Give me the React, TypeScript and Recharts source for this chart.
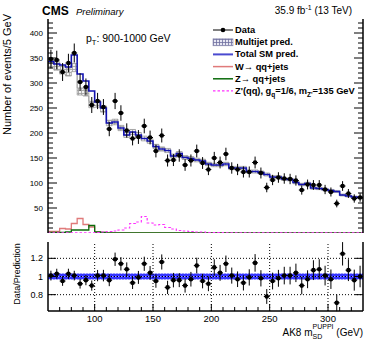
import React from "react";
import {
  ComposedChart,
  Line,
  Area,
  Scatter,
  ErrorBar,
  XAxis,
  YAxis,
  ReferenceLine,
  ReferenceArea,
} from "recharts";

const FONT = "'Liberation Sans', Arial, Helvetica, sans-serif";

// 5 GeV bins from 60 to 330 GeV
const massRange = [60, 330];
const binCenters = [
  62.5, 67.5, 72.5, 77.5, 82.5, 87.5, 92.5, 97.5, 102.5, 107.5,
  112.5, 117.5, 122.5, 127.5, 132.5, 137.5, 142.5, 147.5, 152.5, 157.5,
  162.5, 167.5, 172.5, 177.5, 182.5, 187.5, 192.5, 197.5, 202.5, 207.5,
  212.5, 217.5, 222.5, 227.5, 232.5, 237.5, 242.5, 247.5, 252.5, 257.5,
  262.5, 267.5, 272.5, 277.5, 282.5, 287.5, 292.5, 297.5, 302.5, 307.5,
  312.5, 317.5, 322.5, 327.5,
];

const dataEvents = [
  348, 346, 322, 340, 360, 302, 292, 256, 264, 252,
  208, 264, 240, 205, 189, 192, 214, 191, 164, 195,
  145, 146, 155, 136, 145, 164, 140, 127, 150, 141,
  158, 130, 127, 122, 122, 141, 120, 91, 106, 111,
  109, 108, 105, 86, 97, 96, 96, 87, 82, 59,
  94, 79, 69, 71,
];

const totalSM = [
  343, 338, 336, 332, 356, 318, 304, 284, 262, 250,
  220, 222, 210, 196, 202, 196, 189, 184, 173, 168,
  165, 154, 159, 151, 149, 146, 144, 138, 136, 136,
  138, 130, 130, 130, 123, 123, 121, 117, 112, 112,
  108, 107, 101, 97, 99, 90, 89, 87, 85, 83,
  76, 74, 72, 71,
];

const wJets = [
  3, 3, 9, 8, 19, 29, 17, 12, 2, 1,
  0, 0, 0, 0, 0, 0, 0, 0, 0, 0,
  0, 0, 0, 0, 0, 0, 0, 0, 0, 0,
  0, 0, 0, 0, 0, 0, 0, 0, 0, 0,
  0, 0, 0, 0, 0, 0, 0, 0, 0, 0,
  0, 0, 0, 0,
];

const zJets = [
  1, 1, 1, 2, 6, 6, 6, 15, 2, 1,
  0, 0, 0, 0, 0, 0, 0, 0, 0, 0,
  0, 0, 0, 0, 0, 0, 0, 0, 0, 0,
  0, 0, 0, 0, 0, 0, 0, 0, 0, 0,
  0, 0, 0, 0, 0, 0, 0, 0, 0, 0,
  0, 0, 0, 0,
];

const zPrime = [
  0.5, 0.5, 0.5, 0.5, 0.5, 0.5, 0.5, 0.5, 1, 2,
  3, 4, 6, 10, 19, 22, 33, 20, 16, 17,
  11, 8, 5, 4, 3, 2, 2, 1, 1, 1,
  0.5, 0.5, 0.5, 0.5, 0.5, 0.5, 0.5, 0.5, 0.5, 0.5,
  0.5, 0.5, 0.5, 0.5, 0.5, 0.5, 0.5, 0.5, 0.5, 0.5,
  0.5, 0.5, 0.5, 0.5,
];

const ratio = [
  1.01, 1.03, 0.95, 1.03, 1.01, 0.92, 0.96, 0.9, 1.01, 1.01,
  0.96, 1.19, 1.14, 1.08, 0.93, 0.99, 1.14, 1.04, 0.95, 1.16,
  0.88, 0.96, 0.96, 0.9, 0.97, 1.12, 0.95, 0.92, 1.1, 1.04,
  1.14, 1.01, 0.97, 0.93, 0.99, 1.15, 0.98, 0.78, 0.95, 0.98,
  1.01, 1.01, 1.04, 0.9, 0.97, 1.07, 1.08, 1.01, 0.97, 0.71,
  1.25, 1.07, 0.96, 1.0,
];

const multijetUnc = 0.025;
const ratioBand = [0.966, 1.034];

const mainYLabels = [0, 50, 100, 150, 200, 250, 300, 350, 400];
const ratioYLabels = [0.8, 1, 1.2];
const xLabels = [100, 150, 200, 250, 300];

const mainYDomain = [0, 428];
const ratioYDomain = [0.62, 1.38];

const range = (a: number, b: number, step: number) => {
  const out: number[] = [];
  for (let v = a; v <= b + 1e-9; v += step) out.push(Math.round(v * 100) / 100);
  return out;
};
const xTicks = range(70, 320, 10);
const mainYTicks = range(10, 420, 10);

// table for the step histograms, padded with the outer bin edges
const rowFor = (m: number, i: number) => {
  const qcd = totalSM[i] - wJets[i] - zJets[i];
  return {
    m,
    total: totalSM[i],
    w: wJets[i],
    z: zJets[i],
    zp: zPrime[i],
    qcdBand: [qcd * (1 - multijetUnc), qcd * (1 + multijetUnc)],
  };
};
const histRows = [
  rowFor(massRange[0], 0),
  ...binCenters.map((m, i) => rowFor(m, i)),
  rowFor(massRange[1], binCenters.length - 1),
];

const dataPoints = binCenters.map((m, i) => ({
  m,
  y: dataEvents[i],
  err: Math.sqrt(dataEvents[i]),
  xerr: 2.5,
}));

const ratioPoints = binCenters.map((m, i) => ({
  m,
  y: ratio[i],
  err: ratio[i] / Math.sqrt(dataEvents[i]),
  xerr: 2.5,
}));

type Side = "left" | "right" | "top" | "bottom";

const makeTick =
  (
    side: Side,
    majors: number[],
    majorLen: number,
    minorLen: number,
    fontSize = 0,
    fmt?: (v: number) => string
  ) =>
  (props: any) => {
    const { x, y, payload } = props;
    const v = payload.value;
    const isMajor = majors.some((mv) => Math.abs(mv - v) < 1e-6);
    const len = isMajor ? majorLen : minorLen;
    let line;
    if (side === "left") line = <line x1={x} x2={x + len} y1={y} y2={y} />;
    else if (side === "right") line = <line x1={x} x2={x - len} y1={y} y2={y} />;
    else if (side === "bottom") line = <line x1={x} x2={x} y1={y} y2={y - len} />;
    else line = <line x1={x} x2={x} y1={y} y2={y + len} />;
    let label = null;
    if (isMajor && fmt) {
      if (side === "left")
        label = (
          <text x={x - 5} y={y} textAnchor="end" dominantBaseline="central" fontSize={fontSize} fill="#000" stroke="none">
            {fmt(v)}
          </text>
        );
      else if (side === "bottom")
        label = (
          <text x={x} y={y + fontSize + 1.5} textAnchor="middle" fontSize={fontSize} fill="#000" stroke="none">
            {fmt(v)}
          </text>
        );
    }
    return (
      <g stroke="#000" strokeWidth={1} fontFamily={FONT}>
        {line}
        {label}
      </g>
    );
  };

const axisLine = { stroke: "#000", strokeWidth: 1.5 };

const Dot = (p: any) =>
  p.cx == null ? null : <circle cx={p.cx} cy={p.cy} r={2.3} fill="#000" />;

const MainPanel = () => (
  <ComposedChart
    width={365}
    height={236}
    data={histRows}
    margin={{ top: 19, right: 0, bottom: 3, left: 0 }}
  >
    <defs>
      <pattern id="qcdHatch" width="3" height="3" patternUnits="userSpaceOnUse">
        <rect width="3" height="3" fill="#f2f2f2" />
        <path d="M0 0.5 H3 M0.5 0 V3" stroke="#9c9c9c" strokeWidth="0.8" />
      </pattern>
      <pattern id="ratioHatch" width="3" height="3" patternUnits="userSpaceOnUse">
        <rect width="3" height="3" fill="#3434ff" />
        <rect x="1" y="1" width="1" height="1" fill="#a0a0ff" />
      </pattern>
    </defs>
    <XAxis
      xAxisId="b"
      dataKey="m"
      type="number"
      domain={massRange}
      allowDataOverflow
      ticks={xTicks}
      interval={0}
      height={0}
      tickSize={0}
      tickMargin={0}
      axisLine={axisLine}
      tickLine={false}
      tick={makeTick("bottom", xLabels, 8, 4)}
    />
    <XAxis
      xAxisId="t"
      orientation="top"
      dataKey="m"
      type="number"
      domain={massRange}
      allowDataOverflow
      ticks={xTicks}
      interval={0}
      height={0}
      tickSize={0}
      tickMargin={0}
      axisLine={axisLine}
      tickLine={false}
      tick={makeTick("top", xLabels, 8, 4)}
    />
    <YAxis
      yAxisId="l"
      type="number"
      domain={mainYDomain}
      allowDataOverflow
      ticks={mainYTicks}
      interval={0}
      width={48}
      tickSize={0}
      tickMargin={0}
      axisLine={axisLine}
      tickLine={false}
      tick={makeTick("left", mainYLabels, 9, 5, 8, (v) => String(v))}
    />
    <YAxis
      yAxisId="r"
      orientation="right"
      type="number"
      domain={mainYDomain}
      allowDataOverflow
      ticks={mainYTicks}
      interval={0}
      width={2}
      tickSize={0}
      tickMargin={0}
      axisLine={axisLine}
      tickLine={false}
      tick={makeTick("right", mainYLabels, 9, 5)}
    />
    <Area
      xAxisId="b"
      yAxisId="l"
      type="step"
      dataKey="qcdBand"
      stroke="#9a9a9a"
      strokeWidth={0.8}
      fill="url(#qcdHatch)"
      fillOpacity={1}
      isAnimationActive={false}
    />
    <Line xAxisId="b" yAxisId="l" type="step" dataKey="w" stroke="#e07a7a" strokeWidth={1.3} dot={false} isAnimationActive={false} />
    <Line xAxisId="b" yAxisId="l" type="step" dataKey="z" stroke="#0b6b0b" strokeWidth={1.3} dot={false} isAnimationActive={false} />
    <Line xAxisId="b" yAxisId="l" type="step" dataKey="zp" stroke="#ff30ff" strokeWidth={1.2} strokeDasharray="2.5 2" dot={false} isAnimationActive={false} />
    <Line xAxisId="b" yAxisId="l" type="step" dataKey="total" stroke="#1212b0" strokeWidth={1.6} dot={false} isAnimationActive={false} />
    <Scatter xAxisId="b" yAxisId="l" data={dataPoints} dataKey="y" shape={Dot} isAnimationActive={false}>
      <ErrorBar dataKey="err" direction="y" width={0} stroke="#000" strokeWidth={1} />
      <ErrorBar dataKey="xerr" direction="x" width={0} stroke="#000" strokeWidth={1} />
    </Scatter>
  </ComposedChart>
);

const RatioPanel = () => (
  <ComposedChart
    width={365}
    height={108}
    data={[{ m: massRange[0] }, { m: massRange[1] }]}
    margin={{ top: 6, right: 0, bottom: 0, left: 0 }}
  >
    <XAxis
      xAxisId="b"
      dataKey="m"
      type="number"
      domain={massRange}
      allowDataOverflow
      ticks={xTicks}
      interval={0}
      height={33}
      tickSize={0}
      tickMargin={0}
      axisLine={axisLine}
      tickLine={false}
      tick={makeTick("bottom", xLabels, 7, 4, 9.5, (v) => String(v))}
    />
    <XAxis
      xAxisId="t"
      orientation="top"
      dataKey="m"
      type="number"
      domain={massRange}
      allowDataOverflow
      ticks={xTicks}
      interval={0}
      height={0}
      tickSize={0}
      tickMargin={0}
      axisLine={axisLine}
      tickLine={false}
      tick={makeTick("top", xLabels, 7, 4)}
    />
    <YAxis
      yAxisId="l"
      type="number"
      domain={ratioYDomain}
      allowDataOverflow
      ticks={ratioYLabels}
      interval={0}
      width={48}
      tickSize={0}
      tickMargin={0}
      axisLine={axisLine}
      tickLine={false}
      tick={makeTick("left", ratioYLabels, 8, 4, 9, (v) => String(v))}
    />
    <YAxis
      yAxisId="r"
      orientation="right"
      type="number"
      domain={ratioYDomain}
      allowDataOverflow
      ticks={ratioYLabels}
      interval={0}
      width={2}
      tickSize={0}
      tickMargin={0}
      axisLine={axisLine}
      tickLine={false}
      tick={makeTick("right", ratioYLabels, 8, 4)}
    />
    <ReferenceArea
      xAxisId="b"
      yAxisId="l"
      x1={massRange[0]}
      x2={massRange[1]}
      y1={ratioBand[0]}
      y2={ratioBand[1]}
      fill="url(#ratioHatch)"
      fillOpacity={1}
      stroke="none"
    />
    {xLabels.map((v) => (
      <ReferenceLine key={`gx${v}`} xAxisId="b" yAxisId="l" x={v} stroke="#000" strokeDasharray="1 2" strokeWidth={1} />
    ))}
    {ratioYLabels.map((v) => (
      <ReferenceLine key={`gy${v}`} xAxisId="b" yAxisId="l" y={v} stroke="#000" strokeDasharray="1 2" strokeWidth={1} />
    ))}
    <Scatter xAxisId="b" yAxisId="l" data={ratioPoints} dataKey="y" shape={Dot} isAnimationActive={false}>
      <ErrorBar dataKey="err" direction="y" width={0} stroke="#000" strokeWidth={1} />
      <ErrorBar dataKey="xerr" direction="x" width={0} stroke="#000" strokeWidth={1} />
    </Scatter>
  </ComposedChart>
);

const legendX = 213;
const legendTextX = 235;
const legendRows = [30, 42.3, 54.4, 66.6, 78.8, 90.8];

const Overlay = () => (
  <svg
    width={365}
    height={344}
    style={{ position: "absolute", left: 0, top: 0, pointerEvents: "none" }}
    fontFamily={FONT}
  >
    <defs>
      <pattern id="legHatch" width="3" height="3" patternUnits="userSpaceOnUse">
        <rect width="3" height="3" fill="#e6e6f2" />
        <path d="M0 0.5 H3 M0.5 0 V3" stroke="#6f6fa0" strokeWidth="0.8" />
      </pattern>
    </defs>
    <text x={42} y={15} fontSize={12} fontWeight="bold">CMS</text>
    <text x={76} y={15} fontSize={9.5} fontStyle="italic">Preliminary</text>
    <text x={352} y={14} fontSize={10} textAnchor="end">
      35.9 fb<tspan dy={-4} fontSize={7}>-1</tspan>
      <tspan dy={4}> (13 TeV)</tspan>
    </text>
    <text x={86} y={42} fontSize={10.5}>
      p<tspan dy={2.5} fontSize={7.5}>T</tspan>
      <tspan dy={-2.5}>: 900-1000 GeV</tspan>
    </text>
    <text
      transform="translate(11,14) rotate(-90)"
      fontSize={11}
      textAnchor="end"
    >
      Number of events/5 GeV
    </text>
    <text
      transform="translate(20,274) rotate(-90)"
      fontSize={9}
      textAnchor="middle"
    >
      Data/Prediction
    </text>
    <text x={363} y={336} fontSize={10} textAnchor="end">
      AK8 m<tspan dy={3} fontSize={7}>SD</tspan>
      <tspan dx={-9.7} dy={-10} fontSize={7}>PUPPI</tspan>
      <tspan dy={7}> (GeV)</tspan>
    </text>

    {/* legend */}
    <g fontSize={9.3} fontWeight="bold">
      <line x1={legendX} x2={legendX + 20} y1={legendRows[0]} y2={legendRows[0]} stroke="#000" strokeWidth={1} />
      <circle cx={legendX + 10} cy={legendRows[0]} r={2.3} fill="#000" />
      <text x={legendTextX} y={legendRows[0]} dominantBaseline="central">Data</text>

      <rect x={legendX} y={legendRows[1] - 3.5} width={20} height={7} fill="url(#legHatch)" stroke="#8a8ab0" strokeWidth={0.6} />
      <text x={legendTextX} y={legendRows[1]} dominantBaseline="central">Multijet pred.</text>

      <line x1={legendX} x2={legendX + 20} y1={legendRows[2]} y2={legendRows[2]} stroke="#4a4ad0" strokeWidth={2} />
      <text x={legendTextX} y={legendRows[2]} dominantBaseline="central">Total SM pred.</text>

      <line x1={legendX} x2={legendX + 20} y1={legendRows[3]} y2={legendRows[3]} stroke="#e07a7a" strokeWidth={1.5} />
      <text x={legendTextX} y={legendRows[3]} dominantBaseline="central">W{"\u2192"} qq+jets</text>

      <line x1={legendX} x2={legendX + 20} y1={legendRows[4]} y2={legendRows[4]} stroke="#0b6b0b" strokeWidth={1.5} />
      <text x={legendTextX} y={legendRows[4]} dominantBaseline="central">Z{"\u2192"} qq+jets</text>

      <line x1={legendX} x2={legendX + 20} y1={legendRows[5]} y2={legendRows[5]} stroke="#ff30ff" strokeWidth={1.2} strokeDasharray="2.5 2" />
      <text x={legendTextX} y={legendRows[5] + 3.3}>
        Z'(qq), g<tspan dy={2.5} fontSize={6.5}>q</tspan>
        <tspan dy={-2.5}>=1/6, m</tspan>
        <tspan dy={2.5} fontSize={6.5}>Z'</tspan>
        <tspan dy={-2.5}>=135 GeV</tspan>
      </text>
    </g>
  </svg>
);

export default function App() {
  return (
    <div
      style={{
        position: "absolute",
        left: 0,
        top: 0,
        width: 365,
        height: 344,
        background: "#fff",
        fontFamily: FONT,
      }}
    >
      <div style={{ position: "absolute", left: 0, top: 0 }}>
        <MainPanel />
      </div>
      <div style={{ position: "absolute", left: 0, top: 236 }}>
        <RatioPanel />
      </div>
      <Overlay />
    </div>
  );
}
